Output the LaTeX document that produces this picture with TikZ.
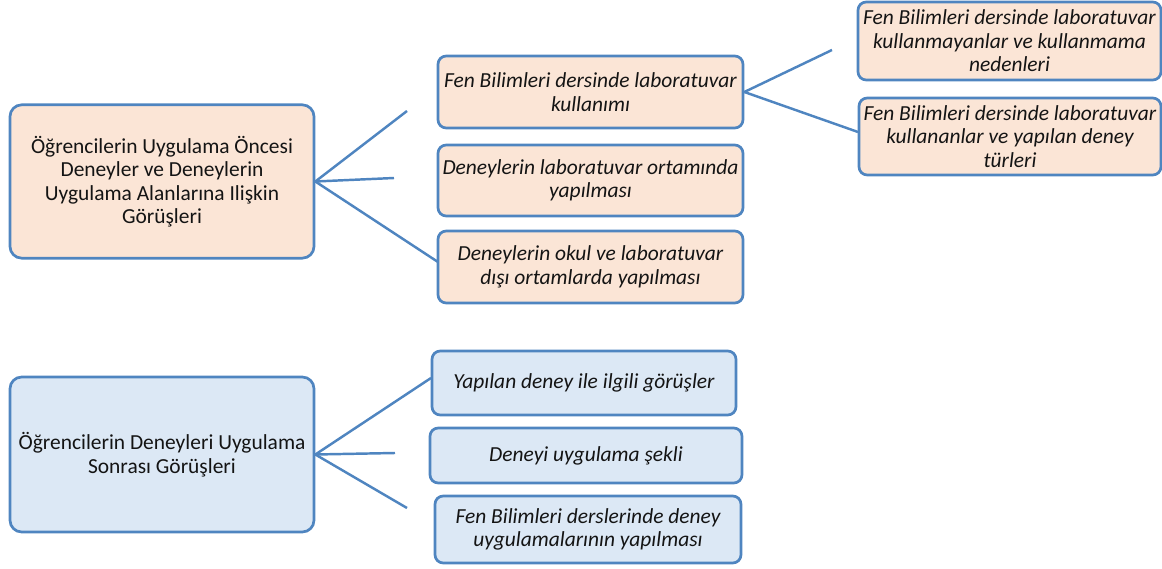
\documentclass[tikz,border=0pt]{standalone}
\usepackage{fontspec}
\setmainfont{Carlito}
\usepackage{xcolor}
\usepackage{tikz}
\definecolor{borderblue}{RGB}{79,133,192}
\definecolor{peach}{RGB}{251,229,214}
\definecolor{paleblue}{RGB}{220,232,245}
\definecolor{textgray}{RGB}{20,20,20}

\begin{document}
\begin{tikzpicture}[x=0.03cm, y=-0.03cm, every node/.style={font=\fontsize{18.3}{20}\selectfont}]
    \tikzstyle{mainbox} = [rectangle, rounded corners=10pt, minimum width=9.12cm, minimum height=4.6cm, align=center, draw=borderblue, line width=2.3pt, text=textgray]
    \tikzstyle{subbox} = [rectangle, rounded corners=7pt, minimum width=9.15cm, align=center, draw=borderblue, line width=2.3pt, text=textgray, font=\fontsize{18.3}{20}\selectfont\itshape]
    \tikzstyle{link} = [draw=borderblue, line width=2.1pt]

    \useasboundingbox (0,0) rectangle (1162,569);

    % Pre-application views
    \node [mainbox, fill=peach] (pre) at (162,181.5) {Öğrencilerin Uygulama Öncesi\\Deneyler ve Deneylerin\\Uygulama Alanlarına Ilişkin\\Görüşleri};

    \node [subbox, fill=peach, minimum height=2.16cm] (labuse) at (590.5,92) {Fen Bilimleri dersinde laboratuvar\\kullanımı};
    \node [subbox, fill=peach, minimum height=2.13cm] (labenv) at (590.5,180.5) {Deneylerin laboratuvar ortamında\\yapılması};
    \node [subbox, fill=peach, minimum height=2.16cm] (outside) at (590.5,267) {Deneylerin okul ve laboratuvar\\dışı ortamlarda yapılması};

    \node [subbox, fill=peach, minimum width=9.09cm, minimum height=2.34cm] (nouse) at (1009.5,41) {Fen Bilimleri dersinde laboratuvar\\kullanmayanlar ve kullanmama\\nedenleri};
    \node [subbox, fill=peach, minimum width=9.06cm, minimum height=2.31cm] (users) at (1010,136.5) {Fen Bilimleri dersinde laboratuvar\\kullananlar ve yapılan deney\\türleri};

    % Post-application views
    \node [mainbox, fill=paleblue, minimum height=4.65cm] (post) at (162,454.5) {Öğrencilerin Deneyleri Uygulama\\Sonrası Görüşleri};

    \node [subbox, fill=paleblue, minimum width=9.12cm, minimum height=1.92cm] (opinions) at (584,383) {Yapılan deney ile ilgili görüşler};
    \node [subbox, fill=paleblue, minimum width=9.36cm, minimum height=1.65cm] (manner) at (586,455.5) {Deneyi uygulama şekli};
    \node [subbox, fill=paleblue, minimum width=9.18cm, minimum height=2.01cm] (lessons) at (588,529.5) {Fen Bilimleri derslerinde deney\\uygulamalarının yapılması};

    % Free line ends
    \coordinate (preA) at (407,111);
    \coordinate (preB) at (394,178);
    \coordinate (preC) at (438,262);
    \coordinate (useA) at (832,50);
    \coordinate (useB) at (858,132);
    \coordinate (postA) at (431,378);
    \coordinate (postB) at (395,453);
    \coordinate (postC) at (407,508);

    % Connections
    \draw [link] (pre.east) -- (preA);
    \draw [link] (pre.east) -- (preB);
    \draw [link] (pre.east) -- (preC);

    \draw [link] (labuse.east) -- (useA);
    \draw [link] (labuse.east) -- (useB);

    \draw [link] (post.east) -- (postA);
    \draw [link] (post.east) -- (postB);
    \draw [link] (post.east) -- (postC);
\end{tikzpicture}
\end{document}
